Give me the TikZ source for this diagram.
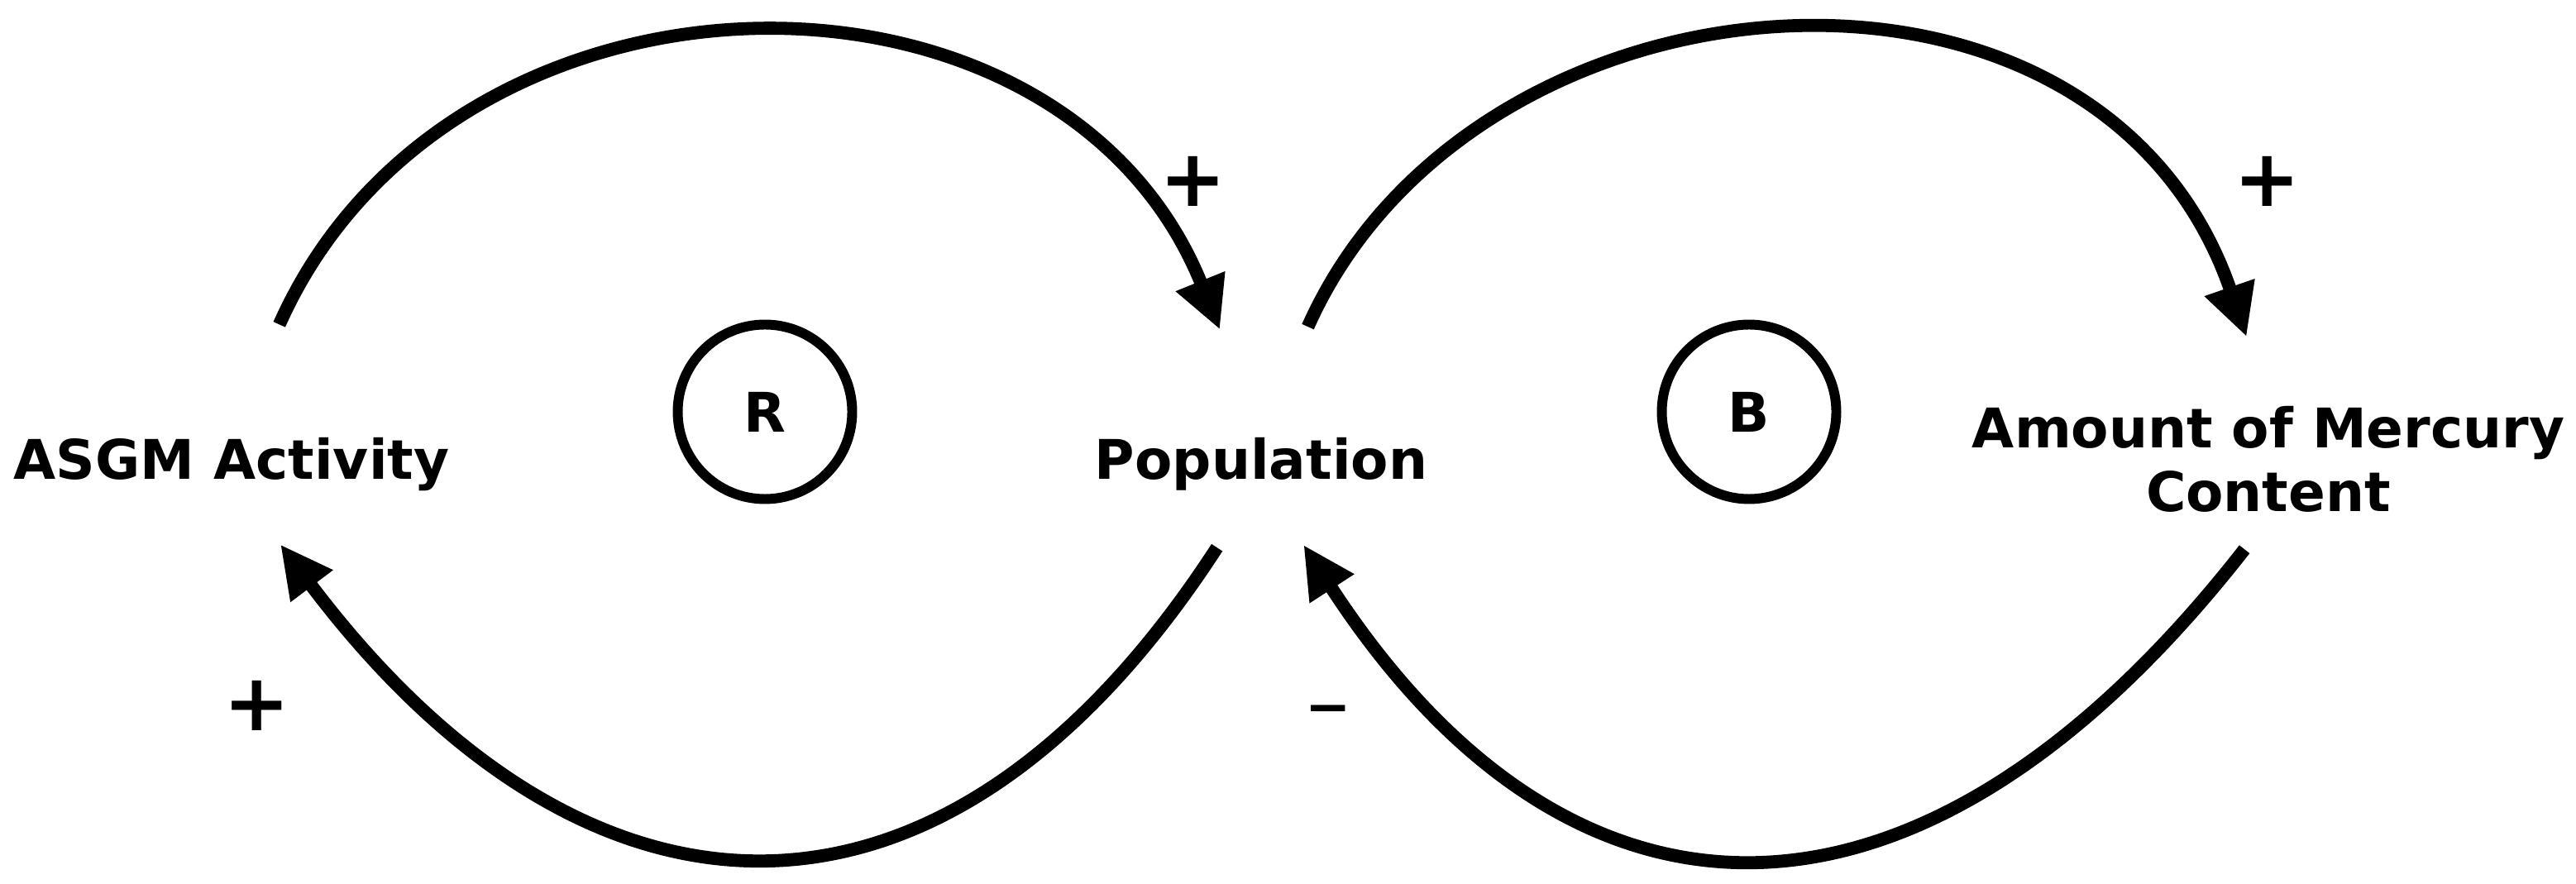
\documentclass[tikz,border=0pt]{standalone}
\usepackage{fontspec}
\setmainfont{DejaVu Sans}
\usepackage{tikz}
\usetikzlibrary{arrows.meta,positioning,calc}

\begin{document}
\begin{tikzpicture}[font=\bfseries\fontsize{18.8}{21.8}\selectfont]
    \tikzset{
        var/.style={inner sep=2pt, align=center},
        loopmark/.style={circle, draw, line width=3.4pt, minimum size=2.11cm, inner sep=0pt},
        link/.style={line width=4.5pt, -{Triangle[length=18pt,width=17pt]}},
        sign/.style={font=\bfseries\fontsize{27.3}{30}\selectfont, inner sep=0pt, anchor=base}
    }
    \useasboundingbox (0,0) rectangle (31.15,-10.69);

    % ---- VARIABLES ----
    \node[var, anchor=base] (asgm) at (2.80,-5.80) {ASGM Activity};
    \node[var, anchor=base] (pop) at (15.25,-5.80) {Population};
    \node[var, anchor=north] (merc) at (27.43,-4.84) {Amount of Mercury\\Content};

    % ---- LOOP MARKERS ----
    \node[loopmark] (loopR) at (9.25,-4.98) {R};
    \node[loopmark] (loopB) at (21.15,-4.98) {B};

    % ---- LINKS ----
    % R loop
    \draw[link, shorten <=1.42cm, shorten >=1.33cm]
        (asgm.north) to[out=66, in=112, looseness=1.34] (pop.north);
    \draw[link, shorten <=0.98cm, shorten >=0.98cm]
        (pop.base) to[out=-123, in=-53, looseness=1.46] (asgm.base);

    % B loop
    \draw[link, shorten <=1.39cm, shorten >=0.81cm]
        (pop.north) to[out=66, in=109, looseness=1.32] (merc.north);
    \draw[link, shorten <=0.47cm, shorten >=0.94cm]
        (merc.south) to[out=-128, in=-57, looseness=1.44] (pop.base);

    % ---- POLARITIES ----
    \node[sign] (sgn1) at (14.43,-2.50) {+};
    \node[sign] (sgn2) at (3.11,-8.84) {+};
    \node[sign] (sgn3) at (27.42,-2.50) {+};
    \node[sign, font=\bfseries\fontsize{18.8}{21.8}\selectfont] (sgn4) at (16.06,-8.78) {−};

\end{tikzpicture}
\end{document}
